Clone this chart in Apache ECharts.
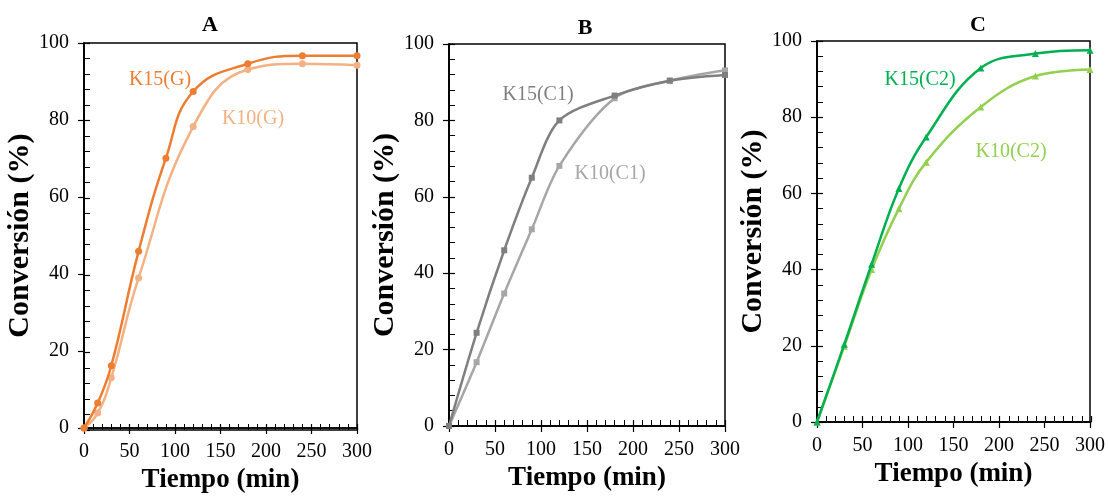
<!DOCTYPE html>
<html>
<head>
<meta charset="utf-8">
<script src="https://cdn.jsdelivr.net/npm/echarts@6/dist/echarts.min.js"></script>
<style>
  html, body { margin: 0; padding: 0; background: #fff; }
  #chart { width: 1108px; height: 499px; }
</style>
</head>
<body>
<div id="chart"></div>
<script>
// Sampling times (min)
const timeG15 = [0, 15, 30, 60, 90, 120, 180, 240, 300];
const timeG10 = [0, 15, 30, 60, 120, 180, 240, 300];
const timeC = [0, 30, 60, 90, 120, 180, 240, 300];

// Conversion (%) — panel A
const convK15G = [0, 6.5, 16.2, 45.9, 70.1, 87.4, 94.6, 96.7, 96.7];
const convK10G = [0, 3.9, 13.1, 39.0, 78.3, 93.1, 94.6, 94.2];

// Conversion (%) — panel B
const convK15C1 = [0, 24.4, 46.0, 65.0, 80.0, 86.5, 90.4, 91.9];
const convK10C1 = [0, 16.7, 34.7, 51.5, 68.1, 85.8, 90.4, 93.1];

// Conversion (%) — panel C
const convK15C2 = [0, 20.4, 41.4, 61.3, 74.8, 92.9, 96.7, 97.6];
const convK10C2 = [0, 19.9, 40.0, 56.0, 68.2, 82.7, 90.8, 92.5];

const panelTitles = ['A', 'B', 'C'];
const seriesNames = [['K15(G)', 'K10(G)'], ['K15(C1)', 'K10(C1)'], ['K15(C2)', 'K10(C2)']];
const xTitle = 'Tiempo (min)';
const yTitle = 'Conversión (%)';

const SERIF = '"Liberation Serif", "Times New Roman", serif';
const colors = [['#ED7D31', '#F4B183'], ['#7F7F7F', '#A6A6A6'], ['#00B050', '#92D050']];
const symbols = ['circle', 'rect', 'triangle'];
const symbolSizes = [7, 6, 7];
const smoothness = [0.45, 0.3, 0.4];

const grids = [
  { left: 84, top: 43, width: 273, height: 387 },
  { left: 449, top: 44, width: 276, height: 382 },
  { left: 817, top: 41, width: 274, height: 381 }
];

const panelData = [
  [[timeG15, convK15G], [timeG10, convK10G]],
  [[timeC, convK15C1], [timeC, convK10C1]],
  [[timeC, convK15C2], [timeC, convK10C2]]
];

const titlePos = [[210, 25], [585, 28], [978, 25]];
const labelPos = [
  [[160, 80], [253, 119]],
  [[538, 95], [610, 174]],
  [[920, 80], [1011, 152]]
];

const pair = (xs, ys) => xs.map((x, i) => [x, ys[i]]);
const n = grids.length;

const gridOpts = [], xAxes = [], yAxes = [], series = [], graphics = [];

// frame grids (0..n-1) carry data; overlay grids (n..2n-1) carry inward ticks
grids.forEach(g => gridOpts.push(Object.assign({ show: true, borderColor: '#000', borderWidth: 1.5, backgroundColor: 'transparent' }, g)));
grids.forEach(g => gridOpts.push(Object.assign({ show: false }, g)));

const tickLine = { color: '#000', width: 1.2 };
const minorLine = { color: '#000', width: 1 };
const axisLine = { show: true, onZero: false, lineStyle: { color: '#000', width: 1.5 } };

grids.forEach((g, i) => {
  xAxes.push({
    type: 'value', gridIndex: i, position: 'bottom', min: 0, max: 300, interval: 50,
    axisLine: axisLine,
    axisTick: { show: true, inside: false, length: 6, lineStyle: tickLine },
    minorTick: { show: false },
    splitLine: { show: false },
    axisLabel: { margin: 14, color: '#000', fontFamily: SERIF, fontSize: 20 },
    name: xTitle, nameLocation: 'middle', nameGap: 38,
    nameTextStyle: { color: '#000', fontFamily: SERIF, fontWeight: 'bold', fontSize: 27 }
  });
  yAxes.push({
    type: 'value', gridIndex: i, position: 'left', min: 0, max: 100, interval: 20,
    axisLine: axisLine,
    axisTick: { show: true, inside: false, length: 6, lineStyle: tickLine },
    minorTick: { show: false },
    splitLine: { show: false },
    axisLabel: { margin: 15, color: '#000', fontFamily: SERIF, fontSize: 20 },
    name: yTitle, nameLocation: 'middle', nameGap: 40, nameRotate: 90,
    nameTextStyle: { color: '#000', fontFamily: SERIF, fontWeight: 'bold', fontSize: 30 }
  });

  panelData[i].forEach((d, j) => {
    series.push({
      name: seriesNames[i][j],
      type: 'line',
      xAxisIndex: i, yAxisIndex: i,
      data: pair(d[0], d[1]),
      smooth: smoothness[i],
      symbol: symbols[i], symbolSize: symbolSizes[i], showSymbol: true,
      clip: false,
      lineStyle: { color: colors[i][j], width: 2.5 },
      itemStyle: { color: colors[i][j] },
      z: j === 0 ? 4 : 3,
      animation: false
    });
    graphics.push({
      type: 'text', x: labelPos[i][j][0], y: labelPos[i][j][1],
      style: {
        text: seriesNames[i][j], fill: colors[i][j],
        font: '20px ' + SERIF, textAlign: 'center', textVerticalAlign: 'middle'
      }
    });
  });

  graphics.push({
    type: 'text', x: titlePos[i][0], y: titlePos[i][1],
    style: {
      text: panelTitles[i], fill: '#000',
      font: 'bold 22px ' + SERIF, textAlign: 'center', textVerticalAlign: 'middle'
    }
  });
});

// inward major and minor ticks on the overlay grids
grids.forEach((g, i) => {
  xAxes.push({
    type: 'value', gridIndex: n + i, position: 'bottom', min: 0, max: 300, interval: 50,
    axisLine: axisLine,
    axisTick: { show: true, inside: true, length: 6, lineStyle: tickLine },
    minorTick: { show: true, splitNumber: 5, length: 6, lineStyle: minorLine },
    splitLine: { show: false },
    axisLabel: { show: false }
  });
  yAxes.push({
    type: 'value', gridIndex: n + i, position: 'left', min: 0, max: 100, interval: 20,
    axisLine: axisLine,
    axisTick: { show: true, inside: true, length: 6, lineStyle: tickLine },
    minorTick: { show: true, splitNumber: 5, length: 6, lineStyle: minorLine },
    splitLine: { show: false },
    axisLabel: { show: false }
  });
  // empty series so the overlay coordinate system is laid out
  series.push({
    type: 'line', xAxisIndex: n + i, yAxisIndex: n + i, data: [], silent: true
  });
});

const chart = echarts.init(document.getElementById('chart'), null, { renderer: 'canvas' });
chart.setOption({
  backgroundColor: '#fff',
  animation: false,
  grid: gridOpts,
  xAxis: xAxes,
  yAxis: yAxes,
  series: series,
  graphic: graphics
});
</script>
</body>
</html>
